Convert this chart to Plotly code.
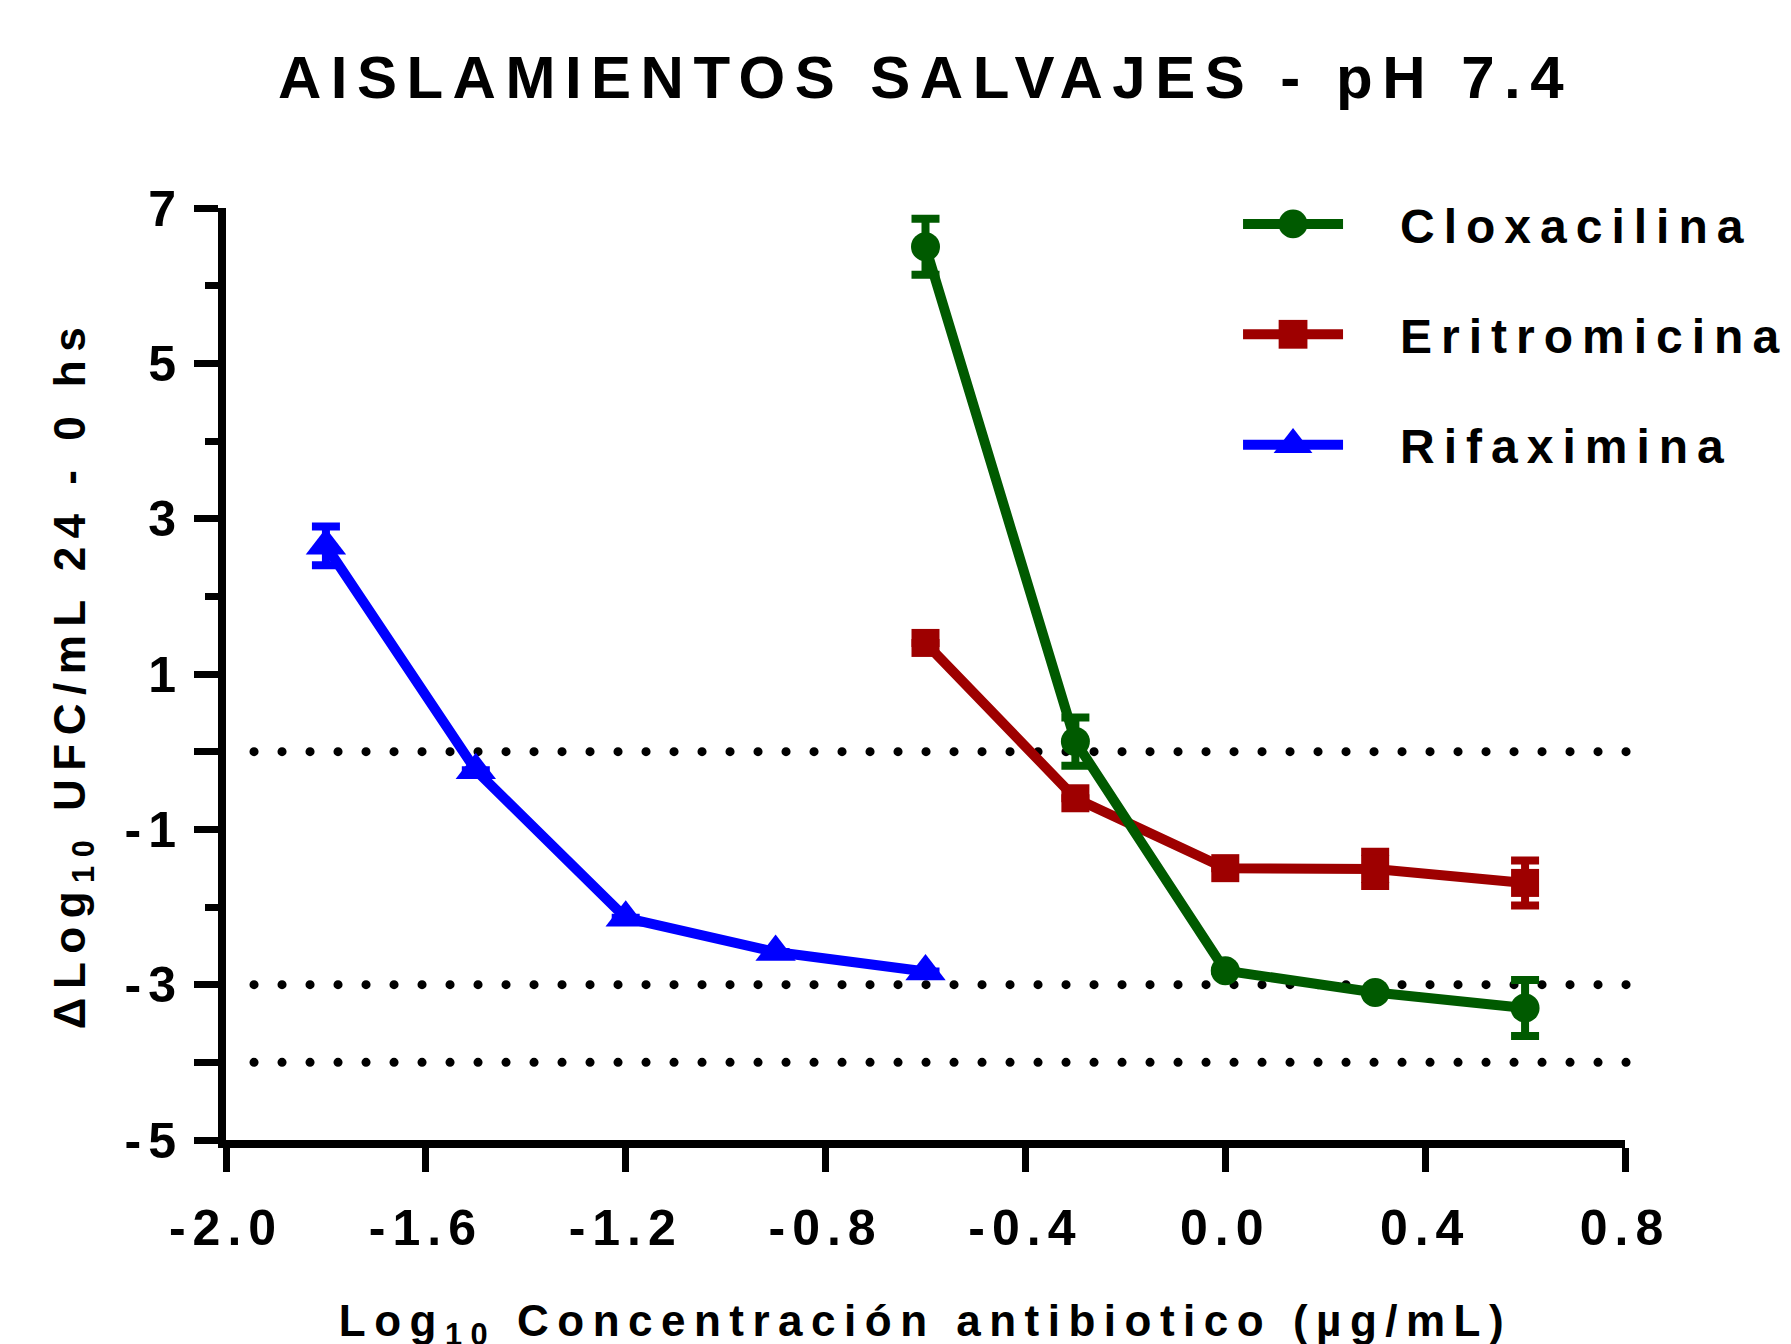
import plotly.graph_objects as go

# ---------------- data ----------------
x_clox = [-0.6, -0.3, 0.0, 0.3, 0.6]
y_clox = [6.50, 0.13, -2.82, -3.10, -3.30]
e_clox = [0.36, 0.31, None, None, 0.36]

x_erit = [-0.6, -0.3, 0.0, 0.3, 0.6]
y_erit = [1.40, -0.60, -1.50, -1.51, -1.69]
e_erit = [None, None, None, 0.22, 0.29]

x_rifa = [-1.8, -1.5, -1.2, -0.9, -0.6]
y_rifa = [2.65, -0.24, -2.14, -2.58, -2.83]
e_rifa = [0.25, None, None, None, None]

ref_lines = [0, -3, -4]

x_ticks = [-2.0, -1.6, -1.2, -0.8, -0.4, 0.0, 0.4, 0.8]
x_ticktext = ["-2.0", "-1.6", "-1.2", "-0.8", "-0.4", "0.0", "0.4", "0.8"]
y_ticks = [7, 5, 3, 1, 0, -1, -3, -4, -5]
y_ticktext = ["7", "5", "3", "1", "", "-1", "-3", "", "-5"]
y_minor = [6, 4, 2, -2]

GREEN = "#005a00"
RED = "#9e0000"
BLUE = "#0000ff"
FONT = "Liberation Sans, Arial, sans-serif"

W, H = 1791, 1344
L, R, T, B = 218, 174, 200, 212

fig = go.Figure()

def add_series(xs, ys, es, name, color, symbol, size, rank):
    fig.add_trace(go.Scatter(
        x=xs, y=ys, name=name, mode="lines+markers",
        line=dict(color=color, width=10),
        marker=dict(color=color, symbol=symbol, size=size, line=dict(width=0)),
        error_y=dict(type="data", array=es, visible=True, color=color,
                     thickness=8, width=14),
        legendgroup=name, legendrank=rank, cliponaxis=False,
    ))

add_series(x_rifa, y_rifa, e_rifa, "Rifaximina", BLUE, "triangle-up", 35, 3)
add_series(x_erit, y_erit, e_erit, "Eritromicina", RED, "square", 28, 2)
add_series(x_clox, y_clox, e_clox, "Cloxacilina", GREEN, "circle", 29, 1)

for yv in ref_lines:
    fig.add_shape(type="line", xref="paper", x0=0.02, x1=1.002, yref="y", y0=yv, y1=yv,
                  line=dict(color="black", width=9, dash="1px,27px"), layer="below")

fig.update_layout(
    width=W, height=H,
    margin=dict(l=L, r=R, t=T, b=B, autoexpand=False),
    paper_bgcolor="white", plot_bgcolor="white",
    font=dict(family=FONT, color="black", weight="bold"),
    title=dict(text="AISLAMIENTOS SALVAJES - pH 7.4", x=0.5, xref="paper",
               y=1 - 69 / H, yref="container", yanchor="middle", xanchor="center",
               font=dict(size=60, family=FONT, color="black", weight="bold")),
    showlegend=True,
    legend=dict(x=0.7234, y=1.0234, xanchor="left", yanchor="top",
                font=dict(size=48, family=FONT, color="black", weight="bold"),
                itemwidth=100, tracegroupgap=45, bgcolor="rgba(0,0,0,0)",
                itemsizing="trace"),
    xaxis=dict(range=[-2.0, 0.8], showgrid=False, zeroline=False, automargin=False,
               showline=True, linecolor="black", linewidth=8,
               ticks="outside", ticklen=24, tickwidth=7, tickcolor="black",
               tickmode="array", tickvals=x_ticks, ticktext=x_ticktext,
               tickfont=dict(size=50, family=FONT, weight="bold"),
               ticklabelstandoff=13,
               title=dict(text="Log<sub>10</sub> Concentración antibiotico (µg/mL)",
                          font=dict(size=44, family=FONT, weight="bold"), standoff=62)),
    yaxis=dict(range=[-5, 7], showgrid=False, zeroline=False, automargin=False,
               showline=True, linecolor="black", linewidth=8,
               ticks="outside", ticklen=24, tickwidth=7, tickcolor="black",
               tickmode="array", tickvals=y_ticks, ticktext=y_ticktext,
               tickfont=dict(size=50, family=FONT, weight="bold"),
               ticklabelstandoff=1,
               minor=dict(tickmode="array", tickvals=y_minor, ticks="outside",
                          ticklen=13, tickwidth=7, tickcolor="black", showgrid=False),
               title=dict(text="ΔLog<sub>10</sub> UFC/mL 24 - 0 hs",
                          font=dict(size=44, family=FONT, weight="bold"), standoff=42)),
)

post = """
var gd = document.getElementById('{plot_id}');
function sp(){
  gd.querySelectorAll('.gtitle').forEach(function(e){e.style.letterSpacing='9.5px';});
  gd.querySelectorAll('.xtick text, .ytick text').forEach(function(e){e.style.letterSpacing='7px';});
  gd.querySelectorAll('.xtitle, .ytitle').forEach(function(e){e.style.letterSpacing='8.5px';});
  gd.querySelectorAll('.shapelayer path').forEach(function(e){
    e.style.strokeLinecap='round';
    e.style.strokeDasharray='0.1px,27.9px';
  });
  gd.querySelectorAll('.legend [clip-path]').forEach(function(e){e.removeAttribute('clip-path');});
  gd.querySelectorAll('.legendtext').forEach(function(e){
    e.style.letterSpacing='9px';
    if(!e.dataset.shifted){
      var x = parseFloat(e.getAttribute('x')||'0');
      e.setAttribute('x', x + 52);
      e.querySelectorAll('tspan[x]').forEach(function(t){t.setAttribute('x', parseFloat(t.getAttribute('x'))+52);});
      e.dataset.shifted='1';
    }
  });
  gd.querySelectorAll('.legendpoints path.scatterpts').forEach(function(p){
    if(!p.dataset.scaled){
      var d = p.getAttribute('d')||'';
      var s = d.indexOf('L')>=0 ? 2.1 : 1.8;
      p.setAttribute('transform', (p.getAttribute('transform')||'') + ' scale(' + s + ')');
      p.dataset.scaled='1';
    }
  });
}
sp();
gd.on('plotly_afterplot', sp);
"""

fig.write_html("out.html", post_script=post)
